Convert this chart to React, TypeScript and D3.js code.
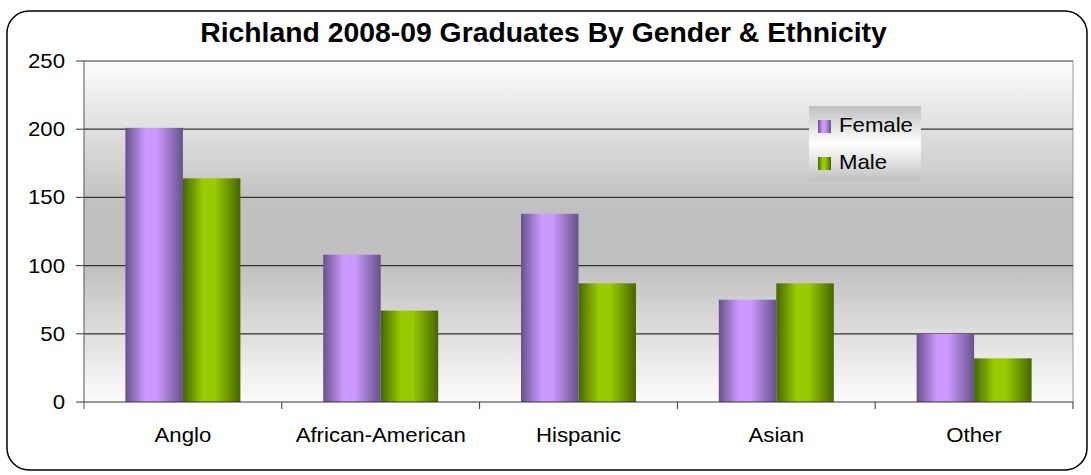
import * as d3 from "d3";

const categories = ["Anglo", "African-American", "Hispanic", "Asian", "Other"];
const femaleValues = [201, 108, 138, 75, 50];
const maleValues = [164, 67, 87, 87, 32];
const seriesNames = ["Female", "Male"];
const yTicks = [0, 50, 100, 150, 200, 250];

const W = 1091;
const H = 475;
const margin = { top: 61, right: 18, bottom: 73, left: 84 };
// text in the original is slightly stretched horizontally
const SX = 1.11;

const App = () => {
  const innerW = W - margin.left - margin.right;
  const innerH = H - margin.top - margin.bottom;

  const x = d3.scaleBand().domain(categories).range([0, innerW]).padding(0);
  const x1 = d3
    .scaleBand()
    .domain(seriesNames)
    .range([x.bandwidth() / 2 - 57.5, x.bandwidth() / 2 + 57.5]);
  const y = d3.scaleLinear().domain([0, 250]).range([innerH, 0]);

  const series = [femaleValues, maleValues];
  const fills = ["url(#gFemale)", "url(#gMale)"];
  const font = "'Liberation Sans', Arial, sans-serif";

  return (
    <svg
      width={W}
      height={H}
      style={{ position: "absolute", left: 0, top: 0, display: "block" }}
    >
      <defs>
        <linearGradient id="gFemale" x1="0" x2="1" y1="0" y2="0">
          <stop offset="0" stopColor="#66528a" />
          <stop offset="0.35" stopColor="#cc99ff" />
          <stop offset="0.55" stopColor="#cc99ff" />
          <stop offset="1" stopColor="#66528a" />
        </linearGradient>
        <linearGradient id="gMale" x1="0" x2="1" y1="0" y2="0">
          <stop offset="0" stopColor="#476600" />
          <stop offset="0.35" stopColor="#99cc00" />
          <stop offset="0.55" stopColor="#99cc00" />
          <stop offset="1" stopColor="#476600" />
        </linearGradient>
        <linearGradient id="gPlot" x1="0" x2="0" y1="0" y2="1">
          <stop offset="0" stopColor="#fcfcfc" />
          <stop offset="0.42" stopColor="#c0c0c0" />
          <stop offset="0.6" stopColor="#c0c0c0" />
          <stop offset="1" stopColor="#fcfcfc" />
        </linearGradient>
        <linearGradient id="gLegend" x1="0" x2="0" y1="0" y2="1">
          <stop offset="0" stopColor="#c0c0c0" />
          <stop offset="0.5" stopColor="#ffffff" />
          <stop offset="1" stopColor="#c0c0c0" />
        </linearGradient>
      </defs>
      <rect width={W} height={H} fill="#ffffff" />
      <rect
        x={7}
        y={11}
        width={1080}
        height={459}
        rx={22}
        ry={22}
        fill="#ffffff"
        stroke="#000000"
        strokeWidth={1.5}
      />
      <text
        transform={`translate(543.5,41.5) scale(1.05,1)`}
        textAnchor="middle"
        fontFamily={font}
        fontWeight="bold"
        fontSize={27}
      >
        Richland 2008-09 Graduates By Gender &amp; Ethnicity
      </text>
      <g transform={`translate(${margin.left},${margin.top})`}>
        <rect width={innerW} height={innerH} fill="url(#gPlot)" />
        <line x1={innerW} x2={innerW} y1={0} y2={innerH} stroke="#999999" />
        {yTicks.map((t) => (
          <g key={t}>
            {t > 0 && (
              <line
                x1={0}
                x2={innerW}
                y1={y(t)}
                y2={y(t)}
                stroke="#333333"
                strokeWidth={1.2}
              />
            )}
            <line x1={-8} x2={0} y1={y(t)} y2={y(t)} stroke="#333333" />
            <text
              transform={`translate(-19,${y(t) + 7}) scale(${SX},1)`}
              textAnchor="end"
              fontFamily={font}
              fontSize={20}
            >
              {t}
            </text>
          </g>
        ))}
        {categories.map((c, i) => (
          <g key={c} transform={`translate(${x(c)},0)`}>
            {series.map((vals, s) => (
              <rect
                key={s}
                x={x1(seriesNames[s])}
                y={y(vals[i])}
                width={x1.bandwidth()}
                height={innerH - y(vals[i])}
                fill={fills[s]}
              />
            ))}
            <text
              transform={`translate(${x.bandwidth() / 2},${innerH + 39.5}) scale(${SX},1)`}
              textAnchor="middle"
              fontFamily={font}
              fontSize={20}
            >
              {c}
            </text>
          </g>
        ))}
        <line x1={0} x2={0} y1={0} y2={innerH + 7} stroke="#555555" />
        <line x1={0} x2={innerW} y1={innerH} y2={innerH} stroke="#333333" strokeWidth={1.2} />
        {categories.map((c) => (
          <line
            key={c}
            x1={(x(c) ?? 0) + x.bandwidth()}
            x2={(x(c) ?? 0) + x.bandwidth()}
            y1={innerH}
            y2={innerH + 7}
            stroke="#333333"
          />
        ))}
      </g>
      <g transform="translate(809,106)">
        <rect width={112} height={75} fill="url(#gLegend)" />
        {seriesNames.map((n, s) => (
          <g key={n} transform={`translate(0,${s * 37})`}>
            <rect x={9} y={14} width={13} height={13} fill={fills[s]} />
            <text
              transform={`translate(30,26) scale(${SX},1)`}
              fontFamily={font}
              fontSize={20}
            >
              {n}
            </text>
          </g>
        ))}
      </g>
    </svg>
  );
};

export default App;
